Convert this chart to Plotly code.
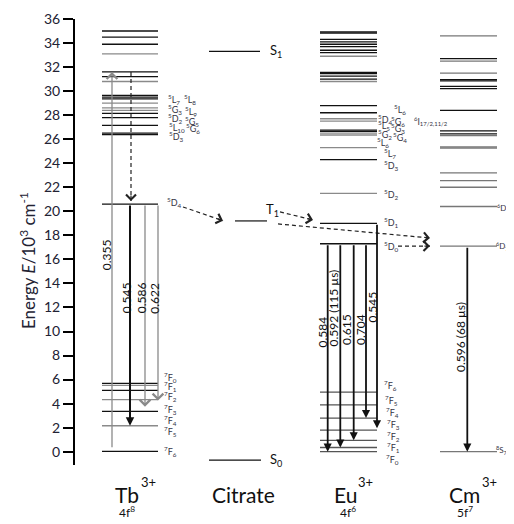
import plotly.graph_objects as go

# ---------------- data ----------------
tick_values = list(range(0, 37, 2))

# Tb3+ levels (10^3 cm^-1)
tb_levels = [35.0, 34.5, 33.9, 31.6, 31.2, 29.65, 29.5, 29.35, 28.15, 27.8, 27.15, 26.5, 26.38,
             20.6, 5.69, 5.1, 3.36, 0.03]
tb_levels_grey = [33.1, 30.8, 29.0, 28.6, 28.4, 5.52, 4.33, 2.16]
tb_upper_names = ["<sup>5</sup>L<sub>7</sub>", "<sup>5</sup>L<sub>8</sub>", "<sup>5</sup>G<sub>3</sub>",
                  "<sup>5</sup>L<sub>9</sub>", "<sup>5</sup>D<sub>2</sub>", "<sup>5</sup>G<sub>5</sub>",
                  "<sup>5</sup>L<sub>10</sub>", "<sup>5</sup>G<sub>6</sub>", "<sup>5</sup>D<sub>3</sub>",
                  "<sup>5</sup>D<sub>4</sub>"]
tb_ground_names = ["<sup>7</sup>F<sub>%d</sub>" % j for j in range(7)]

# Citrate ligand levels
citrate_names = ["S<sub>1</sub>", "T<sub>1</sub>", "S<sub>0</sub>"]
citrate_energy = [33.3, 19.2, -0.7]

# Eu3+ levels
eu_levels = [34.92, 34.82, 34.3, 34.1, 33.9, 33.7, 33.4, 33.2, 31.55, 31.45, 31.25, 31.0,
             28.8, 28.2, 26.75, 26.65, 24.3, 19.0, 17.3]
eu_levels_grey = [32.9, 30.8, 27.7, 27.5, 26.5, 26.35, 25.3, 21.5]
eu_ground = [0.0, 0.35, 0.95, 1.8, 2.8, 3.9, 4.95]          # 7F0 ... 7F6
eu_upper_names = ["<sup>5</sup>L<sub>6</sub>", "<sup>5</sup>D<sub>4</sub>", "<sup>5</sup>G<sub>6</sub>",
                  "<sup>5</sup>L<sub>5</sub>", "<sup>5</sup>G<sub>3</sub>", "<sup>5</sup>G<sub>2</sub>",
                  "<sup>5</sup>G<sub>4</sub>", "<sup>5</sup>L<sub>6</sub>", "<sup>5</sup>L<sub>7</sub>",
                  "<sup>5</sup>D<sub>3</sub>", "<sup>5</sup>D<sub>2</sub>", "<sup>5</sup>D<sub>1</sub>",
                  "<sup>5</sup>D<sub>0</sub>"]
eu_ground_names = ["<sup>7</sup>F<sub>%d</sub>" % j for j in range(7)]

# Cm3+ levels
cm_levels = [32.7, 30.95, 30.85, 30.4, 30.2, 28.4, 26.7, 26.45]
cm_levels_grey = [34.6, 32.5, 31.5, 26.3, 25.35, 25.25, 23.2, 22.55, 22.0, 20.4, 17.1, 0.0]
cm_names = ["<sup>6</sup>I<sub>17/2,11/2</sub>", "<sup>6</sup>D<sub>5/2</sub>",
            "<sup>6</sup>D<sub>7/2</sub>", "<sup>8</sup>S<sub>7/2</sub>"]

# transitions (wavelength in micrometres)
tb_exc_label = "0.355"
tb_exc_from, tb_exc_to = 0.25, 31.6
tb_em_labels = ["0.545", "0.586", "0.622"]
tb_em_from = 20.6
tb_em_to = [2.16, 3.75, 4.25]
eu_em_labels = ["0.584", "0.592 (115 µs)", "0.615", "0.704", "0.545"]
eu_em_from = [17.3, 17.3, 17.3, 17.3, 19.0]
eu_em_to = [0.0, 0.35, 0.95, 2.8, 1.95]
cm_em_label = "0.596 (68 µs)"
cm_em_from, cm_em_to = 17.1, 0.0

ions = ["Tb", "Citrate", "Eu", "Cm"]
ion_charge = ["3+", "", "3+", "3+"]
ion_config = ["4f<sup>8</sup>", "", "4f<sup>6</sup>", "5f<sup>7</sup>"]

# ---------------- layout constants ----------------
FONT = "Lato"
DARK = "#111111"
GREY = "#8a8a8a"
LBL = "#333344"
PX_PER_UNIT = 12.02          # vertical scale (pixel per 10^3 cm^-1)
PAGE_OFF = 8                 # default body margin of the html page
TB_X = (102, 158)
CIT_X = [(209, 260), (235, 267), (209, 261)]
EU_X = (320, 377)
CM_X = (440, 497)

fig = go.Figure()


def levels_trace(xr, values, color, width=1.3):
    xs, ys = [], []
    for v in values:
        xs += [xr[0], xr[1], None]
        ys += [v, v, None]
    fig.add_trace(go.Scatter(x=xs, y=ys, mode="lines", line=dict(color=color, width=width),
                             hoverinfo="skip", showlegend=False))


levels_trace(TB_X, tb_levels, DARK)
levels_trace(TB_X, tb_levels_grey, GREY)
levels_trace(EU_X, eu_levels, DARK)
levels_trace(EU_X, eu_levels_grey, GREY)
levels_trace(EU_X, eu_ground, "#555555")
levels_trace(CM_X, cm_levels, DARK)
levels_trace(CM_X, cm_levels_grey, "#777777")
for xr, e in zip(CIT_X, citrate_energy):
    levels_trace(xr, [e], DARK, 1.2)

annotations = []


def text(x, y, s, size=9, color=LBL, xanchor="left", yanchor="middle", angle=0, xref="x", yref="y"):
    annotations.append(dict(x=x, y=y, text=s, showarrow=False, xref=xref, yref=yref,
                            xanchor=xanchor, yanchor=yanchor, textangle=angle,
                            font=dict(family=FONT, size=size, color=color)))


def arrow(x, e_from, e_to, color, width, head, size):
    annotations.append(dict(x=x, y=e_to, ax=x, ay=e_from, xref="x", yref="y", axref="x", ayref="y",
                            text="", showarrow=True, arrowhead=head, arrowsize=size,
                            arrowwidth=width, arrowcolor=color, standoff=0))


def dashed_arrow(x0, e0, x1, e1, color="#222222"):
    fig.add_trace(go.Scatter(x=[x0, x1], y=[e0, e1], mode="lines",
                             line=dict(color=color, width=1.2, dash="4px,3px"),
                             hoverinfo="skip", showlegend=False))
    dxp = x1 - x0
    dyp = -(e1 - e0) * PX_PER_UNIT
    ln = (dxp ** 2 + dyp ** 2) ** 0.5
    L = 7
    annotations.append(dict(x=x1, y=e1, ax=-dxp / ln * L, ay=-dyp / ln * L, xref="x", yref="y",
                            text="", showarrow=True, arrowhead=4, arrowsize=1.6,
                            arrowwidth=1.2, arrowcolor=color, standoff=0))


# ---- Tb arrows ----
arrow(112, tb_exc_from, tb_exc_to, GREY, 1.3, 4, 1.6)
dashed_arrow(131, tb_exc_to, 131, 20.85)
tb_em_x = [130, 145, 158]
tb_em_col = [DARK, GREY, GREY]
tb_em_w = [2.0, 1.3, 1.3]
tb_em_head = [2, 4, 4]
tb_em_size = [0.85, 1.6, 1.6]
for i in range(3):
    arrow(tb_em_x[i], tb_em_from, tb_em_to[i], tb_em_col[i], tb_em_w[i], tb_em_head[i], tb_em_size[i])
text(106, 16.35, tb_exc_label, 12, DARK, "center", "middle", -90)
for xc, s in zip([126, 141, 154.5], tb_em_labels):
    text(xc, 12.77, s, 12, DARK, "center", "middle", -90)

# energy transfer arrows
dashed_arrow(183, 20.36, 223, 19.22)
dashed_arrow(280, 19.95, 313, 19.28)
dashed_arrow(278, 18.95, 430, 17.78)
dashed_arrow(398, 17.11, 430, 17.11)

# ---- Eu arrows ----
eu_em_x = [327.7, 340.3, 353.7, 366, 377]
for i in range(5):
    arrow(eu_em_x[i], eu_em_from[i], eu_em_to[i], DARK, 1.8, 2, 0.9)
eu_lbl_x = [322, 334, 346, 360, 372]
eu_lbl_y = [9.92, 11.91, 10.12, 10.12, 12.0]
for xc, yc, s in zip(eu_lbl_x, eu_lbl_y, eu_em_labels):
    text(xc, yc, s, 12, DARK, "center", "middle", -90)

# ---- Cm arrow ----
arrow(467.3, cm_em_from, cm_em_to, DARK, 1.8, 2, 0.9)
text(460, 9.54, cm_em_label, 12, DARK, "center", "middle", -90)

# ---- level labels ----
tb_upper_pos = [(166, 29.34), (182, 29.34), (166, 28.51), (183, 28.29), (166, 27.74), (183, 27.51),
                (167, 26.96), (184, 26.85), (167, 26.21), (165, 20.7)]
for (xx, yy), s in zip(tb_upper_pos, tb_upper_names):
    text(xx, yy, s)
tb_ground_y = [6.21, 5.41, 4.63, 3.47, 2.58, 1.66, 0.0]
for yy, s in zip(tb_ground_y, tb_ground_names):
    text(162, yy, s)

eu_upper_pos = [(392, 28.43), (376, 27.67), (389, 27.5), (376, 27.12), (389, 26.85), (376, 26.43),
                (391, 26.1), (375, 25.71), (382, 24.85), (382, 23.85), (382, 21.36), (382, 19.03),
                (382, 17.11)]
for (xx, yy), s in zip(eu_upper_pos, eu_upper_names):
    text(xx, yy, s)
eu_ground_y = [-0.69, 0.33, 1.25, 2.30, 3.24, 4.24, 5.47]
eu_ground_x = [384, 385, 385, 385, 384, 383, 382]
for xx, yy, s in zip(eu_ground_x, eu_ground_y, eu_ground_names):
    text(xx, yy, s)

cm_pos = [(412, 27.51), (495, 20.27), (494, 17.11), (494, 0.14)]
cm_sizes = [8.5, 8, 8, 8]
for (xx, yy), s, fs in zip(cm_pos, cm_names, cm_sizes):
    text(xx, yy, s, fs)

cit_lbl_pos = [(268, 33.33), (264, 20.1), (268, -0.69)]
for (xx, yy), s in zip(cit_lbl_pos, citrate_names):
    text(xx, yy, s, 13, DARK)

# ---- ion names at the bottom (paper coordinates) ----
PLOT_BOTTOM = 465
PLOT_H = 446


def py(p):
    return (PLOT_BOTTOM - p) / PLOT_H


ion_x = [127, 243.5, 345, 464]
charge_x = [148, None, 365, 489]
cfg_x = [126.5, None, 348, 464.5]
for i in range(4):
    text(ion_x[i], py(494), ions[i], 21, DARK, "center", "middle", 0, "x", "paper")
    if ion_charge[i]:
        text(charge_x[i], py(482), ion_charge[i], 13, DARK, "center", "middle", 0, "x", "paper")
    if ion_config[i]:
        text(cfg_x[i], py(512), ion_config[i], 12, DARK, "center", "middle", 0, "x", "paper")

# y-axis title
annotations.append(dict(x=(27 - 75) / 439, y=py(261), xref="paper", yref="paper",
                        text="Energy <i>E</i>/10<sup>3</sup> cm<sup>-1</sup>", showarrow=False,
                        textangle=-90, xanchor="center", yanchor="middle",
                        font=dict(family=FONT, size=17, color="#222233")))

fig.update_layout(
    width=514 - PAGE_OFF, height=524 - PAGE_OFF,
    margin=dict(l=75 - PAGE_OFF, r=0, t=19 - PAGE_OFF, b=59),
    plot_bgcolor="white", paper_bgcolor="white",
    showlegend=False,
    annotations=annotations,
    xaxis=dict(range=[75, 514], visible=False, fixedrange=True),
    yaxis=dict(range=[-1.1065, 36.0], tickvals=tick_values, ticks="outside", ticklen=10,
               tickwidth=1.5, tickcolor="black", showline=True, linewidth=2, linecolor="black",
               showgrid=False, zeroline=False,
               tickfont=dict(family=FONT, size=14, color="#222233")),
)

fig.write_html("out.html")
